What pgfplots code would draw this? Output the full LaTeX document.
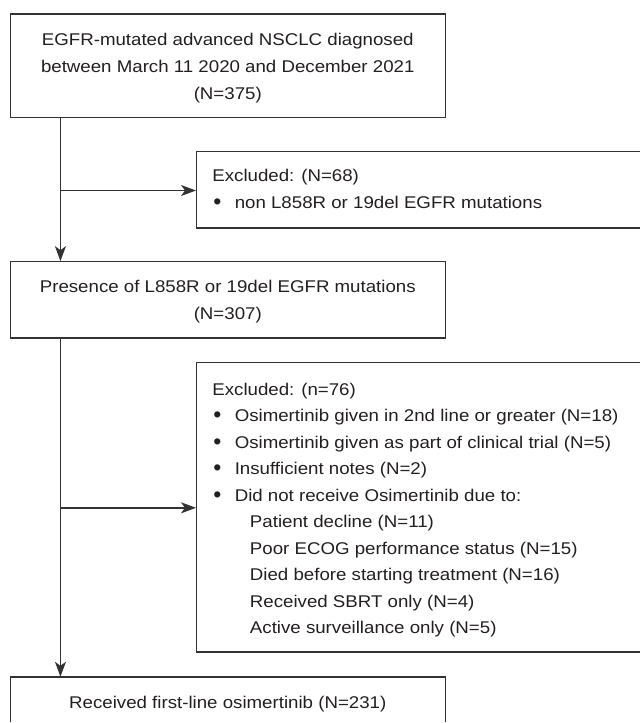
\documentclass[border=0pt]{standalone}
\usepackage{fontspec}
\setmainfont{Liberation Sans}
\usepackage{pgfplots}
\pgfplotsset{compat=1.18}
\usetikzlibrary{arrows.meta}
\definecolor{ln}{HTML}{333333}
\definecolor{tx}{HTML}{231F20}
\newcommand{\T}[1]{\scalebox{1.1}[1]{\fontsize{8.5}{9}\selectfont #1}}
\newcommand{\B}{\scalebox{1.35}{\fontsize{8.5}{9}\selectfont •}}
\tikzset{tt/.style={text=tx, inner sep=0pt, outer sep=0pt}}
\begin{document}
\begin{tikzpicture}
\begin{axis}[scale only axis, width=320.5pt, height=361.5pt,
  xmin=0, xmax=641, ymin=0, ymax=723, y dir=reverse, hide axis, clip=false]
% frame of the picture (invisible)
\addplot[draw=none, no markers, forget plot] coordinates {(0,0) (641,0) (641,723) (0,723)};
% boxes
\addplot[ln, line width=0.7pt, no markers, line join=miter] coordinates {(200,14) (446,14) (446,117.7) (10.5,117.7) (10.5,14) (200,14)};
\addplot[ln, line width=0.7pt, no markers, line join=miter] coordinates {(641,151.7) (196.5,151.7) (196.5,228.3) (641,228.3)};
\addplot[ln, line width=0.7pt, no markers, line join=miter] coordinates {(200,261.7) (446,261.7) (446,338.3) (10.5,338.3) (10.5,261.7) (200,261.7)};
\addplot[ln, line width=0.7pt, no markers, line join=miter] coordinates {(641,362.7) (196.5,362.7) (196.5,652.7) (641,652.7)};
\addplot[ln, line width=0.7pt, no markers, line join=miter] coordinates {(10.5,723) (10.5,677.7) (446,677.7) (446,723)};
% arrows
\addplot[ln, line width=0.7pt, no markers, -{Stealth[length=7.5pt,width=5.5pt,inset=2pt]}] coordinates {(60.5,117.7) (60.5,261.4)};
\addplot[ln, line width=0.7pt, no markers, -{Stealth[length=7.5pt,width=5.5pt,inset=2pt]}] coordinates {(60.5,190.7) (196.2,190.7)};
\addplot[ln, line width=0.7pt, no markers, -{Stealth[length=7.5pt,width=5.5pt,inset=2pt]}] coordinates {(60.5,338.3) (60.5,677.4)};
\addplot[ln, line width=0.7pt, no markers, -{Stealth[length=7.5pt,width=5.5pt,inset=2pt]}] coordinates {(60.5,508.3) (196.2,508.3)};
% box 1
\node[tt, anchor=base] at (axis cs:228,45.7) {\T{EGFR-mutated advanced NSCLC diagnosed}};
\node[tt, anchor=base] at (axis cs:228,72.7) {\T{between March 11 2020 and December 2021}};
\node[tt, anchor=base] at (axis cs:228,99.7) {\T{(N=375)}};
% box 2
\node[tt, anchor=base west] at (axis cs:212.6,182) {\T{Excluded: (N=68)}};
\node[tt, anchor=base] at (axis cs:217.5,209.5) {\B};
\node[tt, anchor=base west] at (axis cs:235,208.5) {\T{non L858R or 19del EGFR mutations}};
% box 3
\node[tt, anchor=base] at (axis cs:228,292.6) {\T{Presence of L858R or 19del EGFR mutations}};
\node[tt, anchor=base] at (axis cs:228,320) {\T{(N=307)}};
% box 4
\node[tt, anchor=base west] at (axis cs:212.6,395.7) {\T{Excluded: (n=76)}};
\node[tt, anchor=base] at (axis cs:217.5,423.2) {\B};
\node[tt, anchor=base west] at (axis cs:235,422.2) {\T{Osimertinib given in 2nd line or greater (N=18)}};
\node[tt, anchor=base] at (axis cs:217.5,449.7) {\B};
\node[tt, anchor=base west] at (axis cs:235,448.7) {\T{Osimertinib given as part of clinical trial (N=5)}};
\node[tt, anchor=base] at (axis cs:217.5,476.2) {\B};
\node[tt, anchor=base west] at (axis cs:235,475.2) {\T{Insufficient notes (N=2)}};
\node[tt, anchor=base] at (axis cs:217.5,502.7) {\B};
\node[tt, anchor=base west] at (axis cs:235,501.7) {\T{Did not receive Osimertinib due to:}};
\node[tt, anchor=base west] at (axis cs:250.2,528.2) {\T{Patient decline (N=11)}};
\node[tt, anchor=base west] at (axis cs:250.2,554.7) {\T{Poor ECOG performance status (N=15)}};
\node[tt, anchor=base west] at (axis cs:250.2,581.2) {\T{Died before starting treatment (N=16)}};
\node[tt, anchor=base west] at (axis cs:250.2,607.7) {\T{Received SBRT only (N=4)}};
\node[tt, anchor=base west] at (axis cs:250.2,634.2) {\T{Active surveillance only (N=5)}};
% box 5
\node[tt, anchor=base] at (axis cs:228,709.3) {\T{Received first-line osimertinib (N=231)}};
\end{axis}
\end{tikzpicture}
\end{document}
